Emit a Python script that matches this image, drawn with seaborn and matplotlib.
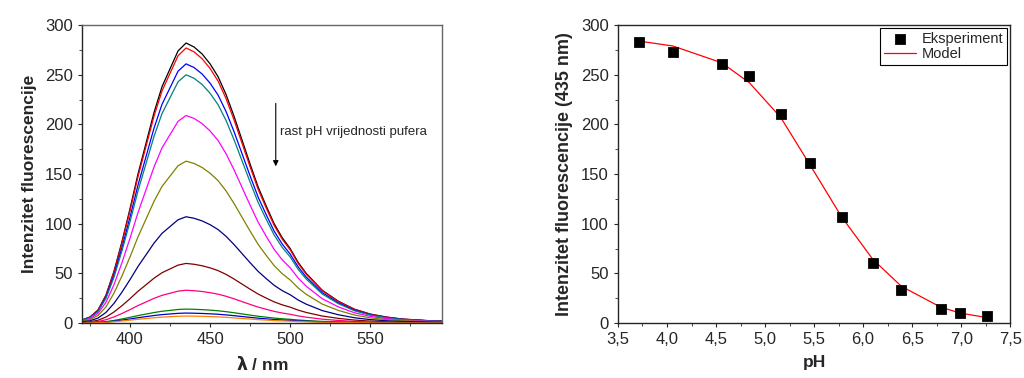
import numpy as np
import pandas as pd
import matplotlib
matplotlib.use("Agg")
import matplotlib.pyplot as plt
from matplotlib.ticker import MultipleLocator, FuncFormatter
import seaborn as sns

wavelength = [370, 375, 380, 385, 390, 395, 400, 405, 410, 415, 420, 425, 430,
              435, 440, 445, 450, 455, 460, 465, 470, 475, 480, 485, 490, 495,
              500, 505, 510, 520, 530, 540, 550, 560, 570, 580, 590, 595]
top_spectrum = [3, 6, 13, 28, 52, 82, 115, 150, 181, 212, 238, 256, 274,
                282, 278, 271, 261, 248, 230, 208, 184, 160, 137, 118, 100, 86,
                75, 61, 50, 33, 22, 14, 9, 6, 4, 3, 2, 2]
# peak heights of the 12 spectra (decreasing with buffer pH)
peak_heights = [282, 277, 261, 250, 209, 163, 107, 60, 33, 14, 10, 7]
spectrum_colors = ["#000000", "#ff0000", "#0000ff", "#008080", "#ff00ff", "#808000",
                   "#000080", "#800000", "#ff0080", "#008000", "#0000cc", "#ff8000"]

# fluorescence at 435 nm vs pH
ph_values = [3.71, 4.06, 4.56, 4.84, 5.16, 5.46, 5.78, 6.10, 6.39, 6.79, 6.99, 7.26]
intensity_exp = [283, 273, 261, 249, 210, 161, 107, 60, 33, 14, 10, 7]
intensity_model = [284, 279, 262, 242, 207, 159, 107, 64, 37, 16, 10, 5.5]

sns.set_style("ticks")
plt.rcParams["font.family"] = ["Liberation Sans", "DejaVu Sans"]
plt.rcParams["font.size"] = 12

fig = plt.figure(figsize=(10.24, 3.78), dpi=100)
ax1 = fig.add_axes([0.080, 0.1455, 0.352, 0.788])
ax2 = fig.add_axes([0.6035, 0.1455, 0.383, 0.788])

# ---- left panel: spectra
shape = np.array(top_spectrum) / max(top_spectrum)
rows = []
for i, peak in enumerate(peak_heights):
    for wl, s in zip(wavelength, shape):
        rows.append({"wl": wl, "I": peak * s, "curve": i})
spectra = pd.DataFrame(rows)
sns.lineplot(data=spectra, x="wl", y="I", hue="curve", palette=spectrum_colors,
             linewidth=0.9, legend=False, ax=ax1)
ax1.set_xlim(370, 595)
ax1.set_ylim(0, 300)
ax1.xaxis.set_major_locator(MultipleLocator(50))
ax1.xaxis.set_minor_locator(MultipleLocator(25))
ax1.yaxis.set_major_locator(MultipleLocator(50))
ax1.yaxis.set_minor_locator(MultipleLocator(25))
ax1.set_xlabel(r"$\boldsymbol{\lambda}$ / nm", fontweight="bold", fontsize=12.5, labelpad=6)
ax1.set_ylabel("Intenzitet fluorescencije", fontweight="bold", fontsize=12.5, labelpad=6)
ax1.annotate("", xy=(491, 155), xytext=(491, 224),
             arrowprops=dict(arrowstyle="-|>", color="black", lw=0.8, mutation_scale=8))
ax1.text(493.5, 192, "rast pH vrijednosti pufera", fontsize=9.5, va="center")
for sp in ["top", "right"]:
    ax1.spines[sp].set_color("#666666")

# ---- right panel: intensity vs pH
sns.lineplot(x=ph_values, y=intensity_model, color="red", linewidth=0.9,
             label="Model", ax=ax2)
sns.scatterplot(x=ph_values, y=intensity_exp, marker="s", color="black", s=50,
                edgecolor="black", label="Eksperiment", ax=ax2, zorder=3)
ax2.set_xlim(3.5, 7.5)
ax2.set_ylim(0, 300)
ax2.xaxis.set_major_locator(MultipleLocator(0.5))
ax2.xaxis.set_minor_locator(MultipleLocator(0.25))
ax2.yaxis.set_major_locator(MultipleLocator(50))
ax2.yaxis.set_minor_locator(MultipleLocator(25))
ax2.xaxis.set_major_formatter(FuncFormatter(lambda v, p: f"{v:.1f}".replace(".", ",")))
ax2.set_xlabel("pH", fontweight="bold", fontsize=12.5, labelpad=6)
ax2.set_ylabel("Intenzitet fluorescencije (435 nm)", fontweight="bold", fontsize=13, labelpad=6)
handles, labels = ax2.get_legend_handles_labels()
leg = ax2.legend(handles[::-1], labels[::-1], loc="upper right", fontsize=10.5,
                 fancybox=False, framealpha=1, edgecolor="black",
                 borderpad=0.25, handlelength=2.2, handletextpad=0.4,
                 labelspacing=0.1, borderaxespad=0.2)
leg.get_frame().set_linewidth(0.8)

for ax in (ax1, ax2):
    ax.tick_params(which="major", direction="out", length=3, labelsize=12)
    ax.tick_params(which="minor", direction="out", length=2)
    for sp in ax.spines.values():
        sp.set_linewidth(1.0)

fig.savefig("out.png", dpi=100)
